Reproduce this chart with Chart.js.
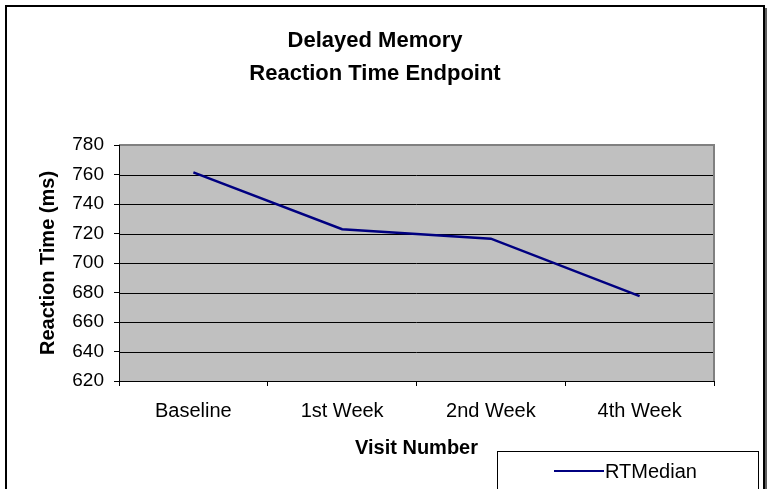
<!DOCTYPE html>
<html>
<head>
<meta charset="utf-8">
<script src="https://cdn.jsdelivr.net/npm/chart.js@4.4.1/dist/chart.umd.min.js"></script>
<style>
	html, body { margin:0; padding:0; background:#fff; }
	#wrap { width:769px; height:489px; position:relative; }
</style>
</head>
<body>
<div id="wrap"><canvas id="myChart" width="769" height="489"></canvas></div>
<script>
const visits = ['Baseline', '1st Week', '2nd Week', '4th Week'];
const rtMedian = [761.4, 722.9, 716.5, 677.5];
const yTicks = [620, 640, 660, 680, 700, 720, 740, 760, 780];
const titleLines = ['Delayed Memory', 'Reaction Time Endpoint'];

const font = 'Arial, "Liberation Sans", sans-serif';

// gray plot background + outer frame + the boxed legend
const frame = {
	id:'frame',
	beforeDatasetsDraw(chart) {
		let {ctx, chartArea:a} = chart;
		ctx.save();
		ctx.fillStyle = '#c0c0c0';
		ctx.fillRect(a.left, a.top, a.right - a.left, a.bottom - a.top);
		ctx.strokeStyle = '#000';
		ctx.lineWidth = 1;
		for(let v of yTicks) {
			if(v === yTicks[yTicks.length-1]) continue;
			let y = Math.round(chart.scales.y.getPixelForValue(v)) + 0.5;
			ctx.beginPath();
			ctx.moveTo(a.left, y);
			ctx.lineTo(a.right, y);
			ctx.stroke();
		}
		ctx.restore();
	},
	afterDraw(chart) {
		let {ctx, chartArea:a} = chart;
		ctx.save();
		// plot border
		ctx.strokeStyle = '#808080';
		ctx.lineWidth = 2;
		ctx.beginPath();
		ctx.moveTo(a.left, a.top);
		ctx.lineTo(a.right, a.top);
		ctx.lineTo(a.right, a.bottom);
		ctx.stroke();
		ctx.strokeStyle = '#000';
		ctx.lineWidth = 1;
		ctx.beginPath();
		ctx.moveTo(a.left + 0.5, a.top);
		ctx.lineTo(a.left + 0.5, a.bottom + 5);
		ctx.moveTo(a.left - 5, a.bottom + 0.5);
		ctx.lineTo(a.right, a.bottom + 0.5);
		ctx.stroke();
		// outer frame
		ctx.strokeStyle = '#000';
		ctx.lineWidth = 2;
		ctx.beginPath();
		ctx.moveTo(6, 492);
		ctx.lineTo(6, 6);
		ctx.lineTo(764, 6);
		ctx.lineTo(764, 492);
		ctx.stroke();
		ctx.strokeStyle = '#606060';
		ctx.beginPath();
		ctx.moveTo(766, 8);
		ctx.lineTo(766, 492);
		ctx.stroke();
		// legend
		let ds = chart.data.datasets[0];
		ctx.fillStyle = '#fff';
		ctx.fillRect(497, 451, 261, 45);
		ctx.strokeStyle = '#000';
		ctx.lineWidth = 1;
		ctx.strokeRect(497.5, 451.5, 261, 45);
		ctx.strokeStyle = ds.borderColor;
		ctx.lineWidth = 2;
		ctx.beginPath();
		ctx.moveTo(554, 471);
		ctx.lineTo(604, 471);
		ctx.stroke();
		ctx.fillStyle = '#000';
		ctx.font = '20px ' + font;
		ctx.textBaseline = 'middle';
		ctx.fillText(ds.label, 605, 472);
		ctx.restore();
	}
};

const ctx = document.getElementById('myChart');

new Chart(ctx, {
	type: 'line',
	data: {
		labels: visits,
		datasets: [{
			label: 'RTMedian',
			data: rtMedian,
			borderColor: '#000080',
			borderWidth: 2.5,
			pointRadius: 0,
			tension: 0,
			fill: false
		}]
	},
	options: {
		responsive: false,
		animation: false,
		layout: { padding: { left:0, right:19, top:0, bottom:0 } },
		plugins: {
			legend: { display:false },
			tooltip: { enabled:false },
			title: {
				display: true,
				text: titleLines,
				color: '#000',
				font: { family: font, size: 22, weight: 'bold', lineHeight: 1.5 },
				padding: { top: 24, bottom: 55 }
			}
		},
		scales: {
			x: {
				offset: true,
				grid: { offset: true, drawOnChartArea: false, drawTicks: true, tickLength: 5, color: '#000' },
				border: { display: false },
				ticks: { color: '#000', font: { family: font, size: 20 }, padding: 13, maxRotation: 0 },
				title: {
					display: true, text: 'Visit Number', color: '#000',
					font: { family: font, size: 20, weight: 'bold' },
					padding: { top: 0, bottom: 29 }
				},
				afterFit(s) { s.height = 108; }
			},
			y: {
				min: 620,
				max: 780,
				afterBuildTicks(s) { s.ticks = yTicks.map(v => ({value: v})); },
				grid: { drawOnChartArea: false, drawTicks: true, tickLength: 5, color: '#000' },
				border: { display: false },
				ticks: { color: '#000', font: { family: font, size: 19 }, padding: 10 },
				title: {
					display: true, text: 'Reaction Time (ms)', color: '#000',
					font: { family: font, size: 20, weight: 'bold' },
					padding: { top: 36, bottom: 0 }
				},
				afterFit(s) { s.width = 119; }
			},
			// empty right axis, only keeps room so the title centres like the original
			yRight: {
				position: 'right',
				min: 620,
				max: 780,
				grid: { display: false },
				border: { display: false },
				ticks: { display: false },
				afterFit(s) { s.width = 36; }
			}
		}
	},
	plugins: [frame]
});
</script>
</body>
</html>
